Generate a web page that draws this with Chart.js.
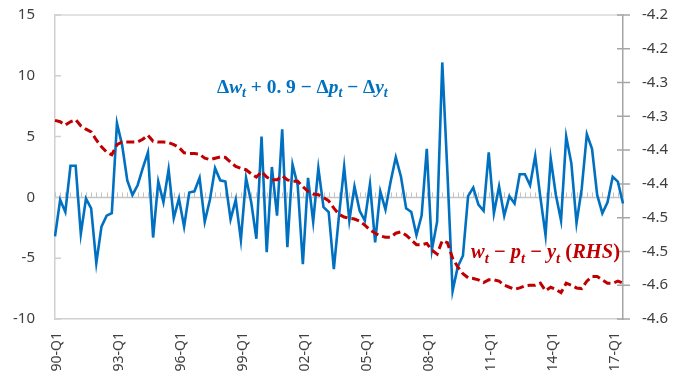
<!DOCTYPE html>
<html>
<head>
<meta charset="utf-8">
<script src="https://cdn.jsdelivr.net/npm/chart.js@4.4.1/dist/chart.umd.min.js"></script>
<style>
  html, body { margin: 0; padding: 0; background: #ffffff; }
  #wrap { width: 679px; height: 379px; position: relative; overflow: hidden; }
  .xlab {
    position: absolute;
    white-space: nowrap;
    font: 14px "Noto Sans", "Open Sans", sans-serif;
    line-height: 1;
    color: #404040;
    transform-origin: 0 0;
    transform: rotate(-90deg) translate(-100%, -50%);
  }
</style>
</head>
<body>
<div id="wrap"><canvas id="chart" width="679" height="379"></canvas></div>
<script>
// Quarterly categories, 1990-Q1 .. 2017-Q3
const categories = [];
for (let y = 1990; y <= 2017; y++) {
  for (let q = 1; q <= 4; q++) {
    if (y === 2017 && q > 3) break;
    categories.push(String(y % 100).padStart(2, '0') + '-Q' + q);
  }
}

// Δw_t + 0.9 − Δp_t − Δy_t (left axis, %)
const wageGrowthGap = [
  -3.2, -0.2, -1.2, 2.6, 2.6, -3.0, -0.1, -0.9, -5.4, -2.4, -1.5, -1.3,
  6.1, 4.3, 1.4, 0.2, 1.0, 2.4, 3.7, -3.3, 1.3, -0.4, 2.3, -1.7,
  -0.1, -2.4, 0.4, 0.5, 1.6, -2.0, -0.2, 2.4, 1.4, 1.3, -1.8, -0.2,
  -3.5, 1.6, -0.4, -3.4, 5.0, -4.5, 2.5, -1.5, 5.6, -4.1, 2.7, 1.0,
  -5.5, 1.6, -2.0, 2.4, -0.8, -1.2, -5.9, -1.5, 2.5, -1.9, 0.9, -1.1,
  -1.9, 1.1, -3.7, 0.5, -1.0, 1.3, 3.3, 1.7, -0.9, -1.2, -3.1, -1.5,
  4.0, -4.3, -2.0, 11.1, 2.0, -7.7, -5.7, -4.8, 0.1, 0.8, -0.6, -1.1,
  3.7, -1.3, 0.9, -1.5, 0.1, -0.5, 1.9, 1.9, 1.0, 3.4, 0.0, -3.1,
  3.2, 0.2, -1.9, 5.0, 2.8, -2.1, 0.7, 5.2, 4.0, 0.2, -1.3, -0.4,
  1.7, 1.3, -0.5
];

// w_t − p_t − y_t (right axis, log level)
const laborShare = [
  -4.306, -4.308, -4.313, -4.308, -4.305, -4.314, -4.319, -4.323, -4.335, -4.345, -4.353, -4.357,
  -4.342, -4.338, -4.338, -4.338, -4.338, -4.334, -4.328, -4.337, -4.338, -4.338, -4.339, -4.342,
  -4.346, -4.354, -4.355, -4.355, -4.356, -4.362, -4.364, -4.362, -4.360, -4.361, -4.368, -4.374,
  -4.377, -4.379, -4.385, -4.390, -4.382, -4.390, -4.394, -4.394, -4.388, -4.394, -4.396, -4.396,
  -4.404, -4.411, -4.415, -4.416, -4.420, -4.425, -4.436, -4.445, -4.449, -4.451, -4.452, -4.455,
  -4.461, -4.468, -4.473, -4.477, -4.479, -4.479, -4.473, -4.471, -4.476, -4.483, -4.490, -4.490,
  -4.488, -4.498, -4.504, -4.484, -4.487, -4.510, -4.523, -4.533, -4.539, -4.540, -4.542, -4.546,
  -4.542, -4.542, -4.544, -4.550, -4.553, -4.556, -4.554, -4.551, -4.550, -4.550, -4.547, -4.558,
  -4.553, -4.556, -4.561, -4.547, -4.550, -4.554, -4.555, -4.544, -4.537, -4.537, -4.542, -4.547,
  -4.547, -4.544, -4.547
];

// Axis tick values / labels
const leftTicks = [-10, -5, 0, 5, 10, 15];
const rightTickLabels = ['-4.6', '-4.6', '-4.5', '-4.5', '-4.4', '-4.4', '-4.3', '-4.3', '-4.2', '-4.2'];
const xLabelEvery = 12;

const BLUE = '#0070C0';
const RED = '#C00000';
const TEXT = '#404040';
const FONT = '"Noto Sans", "Open Sans", sans-serif';

// Formula-style captions: [text, style] with style u = upright, i = italic, s = subscript
const blueCaption = [['Δ','u'],['w','i'],['t','s'],[' + ','u'],['0. 9','u'],[' − ','u'],['Δ','u'],['p','i'],['t','s'],[' − ','u'],['Δ','u'],['y','i'],['t','s']];
const redCaption = [['w','i'],['t','s'],[' − ','u'],['p','i'],['t','s'],[' − ','u'],['y','i'],['t','s'],[' (','u'],['RHS','i'],[')','u']];

function fontFor(style, size) {
  const fam = '"Liberation Serif", "DejaVu Serif", serif';
  if (style === 'u') return 'bold ' + size.toFixed(1) + 'px ' + fam;
  if (style === 's') return 'italic bold ' + (size * 0.72).toFixed(1) + 'px ' + fam;
  return 'italic bold ' + size.toFixed(1) + 'px ' + fam;
}

// draws a caption so that it spans the given width, sizing the font to fit
function drawCaption(ctx, parts, x, baseline, size, color, width) {
  ctx.save();
  let natural = 0;
  parts.forEach(([t, s]) => { ctx.font = fontFor(s, size); natural += ctx.measureText(t).width; });
  const fit = size * width / natural;
  ctx.fillStyle = color;
  ctx.textBaseline = 'alphabetic';
  ctx.textAlign = 'left';
  let cx = x;
  parts.forEach(([t, s]) => {
    ctx.font = fontFor(s, fit);
    ctx.fillText(t, cx, baseline + (s === 's' ? fit * 0.22 : 0));
    cx += ctx.measureText(t).width;
  });
  ctx.restore();
}

// keep tick-label padding from enlarging the layout margins
function fixVertical(width) {
  return s => { s.width = width; s.paddingTop = 8; s.paddingBottom = 8; };
}

const framePlugin = {
  id: 'frame',
  beforeDatasetsDraw(chart) {
    const { ctx, chartArea: a, scales } = chart;
    const xs = scales.x, yl = scales.y, yr = scales.y2;
    ctx.save();
    // top border of plot area
    ctx.strokeStyle = '#d9d9d9';
    ctx.lineWidth = 1.5;
    ctx.beginPath(); ctx.moveTo(a.left, a.top); ctx.lineTo(a.right, a.top); ctx.stroke();
    // category axis crossing at zero, with a tick per quarter
    const y0 = yl.getPixelForValue(0);
    ctx.strokeStyle = '#c4c4c4';
    ctx.lineWidth = 1.5;
    ctx.beginPath(); ctx.moveTo(a.left, y0); ctx.lineTo(a.right, y0); ctx.stroke();
    ctx.lineWidth = 1;
    ctx.beginPath();
    for (let i = 0; i < categories.length; i++) {
      const px = Math.round(xs.getPixelForValue(i)) + 0.5;
      ctx.moveTo(px, y0); ctx.lineTo(px, y0 - 5);
    }
    ctx.stroke();
    // left axis tick marks (inside)
    ctx.strokeStyle = '#d0d0d0';
    ctx.lineWidth = 1.5;
    ctx.beginPath();
    leftTicks.forEach(v => { const py = yl.getPixelForValue(v); ctx.moveTo(a.left, py); ctx.lineTo(a.left + 6, py); });
    ctx.stroke();
    // right axis tick marks (crossing)
    ctx.strokeStyle = '#a6a6a6';
    ctx.beginPath();
    yr.ticks.forEach(t => { const py = yr.getPixelForValue(t.value); ctx.moveTo(a.right - 6, py); ctx.lineTo(a.right + 7, py); });
    ctx.stroke();
    ctx.restore();
  },
  afterDatasetsDraw(chart) {
    const { ctx, chartArea: a } = chart;
    drawCaption(ctx, blueCaption, a.left + 162, a.top + 78, 18, BLUE, 171);
    drawCaption(ctx, redCaption, a.left + 416, a.top + 243, 17, RED, 149);
  }
};

// vertical category labels (every third year), placed from the x scale
const xLabelPlugin = {
  id: 'xLabels',
  afterRender(chart) {
    const wrap = document.getElementById('wrap');
    wrap.querySelectorAll('.xlab').forEach(el => el.remove());
    const xs = chart.scales.x, a = chart.chartArea;
    categories.forEach((c, i) => {
      if (i % xLabelEvery !== 0) return;
      const el = document.createElement('div');
      el.className = 'xlab';
      el.textContent = c;
      el.style.left = (xs.getPixelForValue(i) + 1) + 'px';
      el.style.top = (a.bottom + 13) + 'px';
      wrap.appendChild(el);
    });
  }
};

new Chart(document.getElementById('chart'), {
  type: 'line',
  data: {
    labels: categories,
    datasets: [
      {
        label: 'Δw_t + 0.9 − Δp_t − Δy_t',
        data: wageGrowthGap,
        yAxisID: 'y',
        borderColor: BLUE,
        borderWidth: 2.6,
        pointRadius: 0,
        tension: 0,
        order: 1
      },
      {
        label: 'w_t − p_t − y_t (RHS)',
        data: laborShare,
        yAxisID: 'y2',
        borderColor: RED,
        borderWidth: 3,
        borderDash: [8, 4],
        pointRadius: 0,
        tension: 0,
        order: 0
      }
    ]
  },
  options: {
    responsive: false,
    animation: false,
    layout: { padding: { top: 15, left: 0, right: 0, bottom: 0 } },
    plugins: { legend: { display: false }, tooltip: { enabled: false } },
    scales: {
      x: {
        type: 'category',
        offset: false,
        grid: { display: true, drawOnChartArea: false, drawTicks: false },
        border: { display: true, color: '#d0d0d0', width: 1.5 },
        ticks: { display: false },
        afterFit: s => { s.height = 60; s.paddingLeft = 0; s.paddingRight = 0; }
      },
      y: {
        position: 'left',
        min: -10,
        max: 15,
        grid: { display: true, drawOnChartArea: false, drawTicks: false },
        border: { display: true, color: '#d0d0d0', width: 1.5 },
        ticks: {
          stepSize: 5,
          padding: 20,
          color: TEXT,
          font: { family: FONT, size: 15 }
        },
        afterFit: fixVertical(55)
      },
      y2: {
        position: 'right',
        min: -4.6,
        max: -4.15,
        grid: { display: true, drawOnChartArea: false, drawTicks: false },
        border: { display: true, color: '#a6a6a6', width: 1.5 },
        ticks: {
          stepSize: 0.05,
          padding: 19,
          color: TEXT,
          font: { family: FONT, size: 15 },
          callback: (v, i) => rightTickLabels[i]
        },
        afterFit: fixVertical(56)
      }
    }
  },
  plugins: [framePlugin, xLabelPlugin]
});
</script>
</body>
</html>
